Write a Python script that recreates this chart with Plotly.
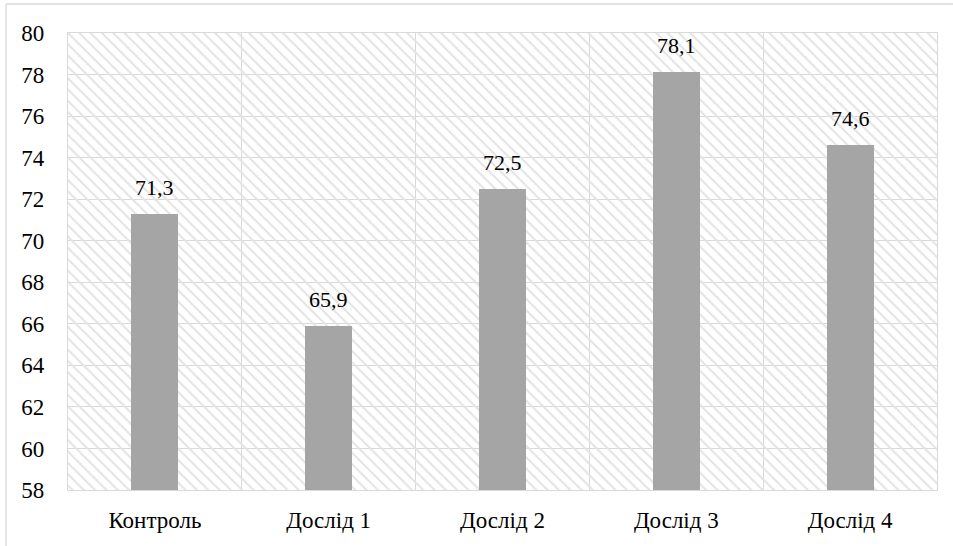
import plotly.graph_objects as go

# Data
categories = ["Контроль", "Дослід 1", "Дослід 2", "Дослід 3", "Дослід 4"]
values = [71.3, 65.9, 72.5, 78.1, 74.6]

# Axis settings
Y_MIN, Y_MAX, Y_STEP = 58, 80, 2

W, H = 953, 546
M_L, M_R, M_T, M_B = 68, 16, 33, 56
FONT = "Liberation Serif, Times New Roman, serif"
FS = 23
GRID = "#d9d9d9"

def fmt(v):
    return f"{v:.1f}".replace(".", ",")

fig = go.Figure()

# Hatched plot background: one full-height band per category
fig.add_trace(go.Bar(
    x=categories,
    y=[Y_MAX - Y_MIN] * len(categories),
    base=[Y_MIN] * len(categories),
    width=1,
    marker=dict(
        color="rgba(0,0,0,0)",
        line=dict(width=0),
        pattern=dict(shape="\\", fgcolor="#e3e3e3", bgcolor="rgba(0,0,0,0)",
                     size=8, solidity=0.25, fillmode="replace"),
    ),
    hoverinfo="skip",
    showlegend=False,
))

# Data bars
fig.add_trace(go.Bar(
    x=categories,
    y=[v - Y_MIN for v in values],
    base=[Y_MIN] * len(values),
    width=0.27,
    marker=dict(color="#a5a5a5", line=dict(width=0)),
    showlegend=False,
))

# Value labels above bars
for c, v in zip(categories, values):
    fig.add_annotation(x=c, y=v, text=fmt(v), showarrow=False,
                       yanchor="bottom", yshift=12,
                       font=dict(family=FONT, size=22, color="#000"))

plot_w = W - M_L - M_R
plot_h = H - M_T - M_B
ox = (6 - M_L) / plot_w
oy = (H - M_B - 4) / plot_h

# Outer chart frame (top and left edges)
fig.add_shape(type="line", xref="paper", yref="paper", x0=ox, x1=1.2, y0=oy, y1=oy,
              line=dict(color=GRID, width=1.3))
fig.add_shape(type="line", xref="paper", yref="paper", x0=ox, x1=ox, y0=oy, y1=-0.3,
              line=dict(color=GRID, width=1.3))

fig.update_layout(
    width=W, height=H,
    margin=dict(l=M_L, r=M_R, t=M_T, b=M_B),
    barmode="overlay",
    bargap=0,
    paper_bgcolor="white",
    plot_bgcolor="white",
    font=dict(family=FONT, size=FS, color="#000"),
    xaxis=dict(
        type="category",
        tickson="boundaries",
        automargin=False,
        showgrid=True, gridcolor=GRID, gridwidth=1.3,
        showline=True, linecolor=GRID, linewidth=1.3, mirror=True,
        ticks="", ticklabelstandoff=9,
        tickfont=dict(family=FONT, size=FS, color="#000"),
        range=[-0.5, len(categories) - 0.5],
    ),
    yaxis=dict(
        range=[Y_MIN, Y_MAX], dtick=Y_STEP, tick0=Y_MIN,
        automargin=False,
        showgrid=True, gridcolor=GRID, gridwidth=1.3,
        showline=True, linecolor=GRID, linewidth=1.3, mirror=True,
        zeroline=False,
        ticks="", ticklabelstandoff=18,
        tickfont=dict(family=FONT, size=FS, color="#000"),
    ),
)

fig.write_html("out.html")
